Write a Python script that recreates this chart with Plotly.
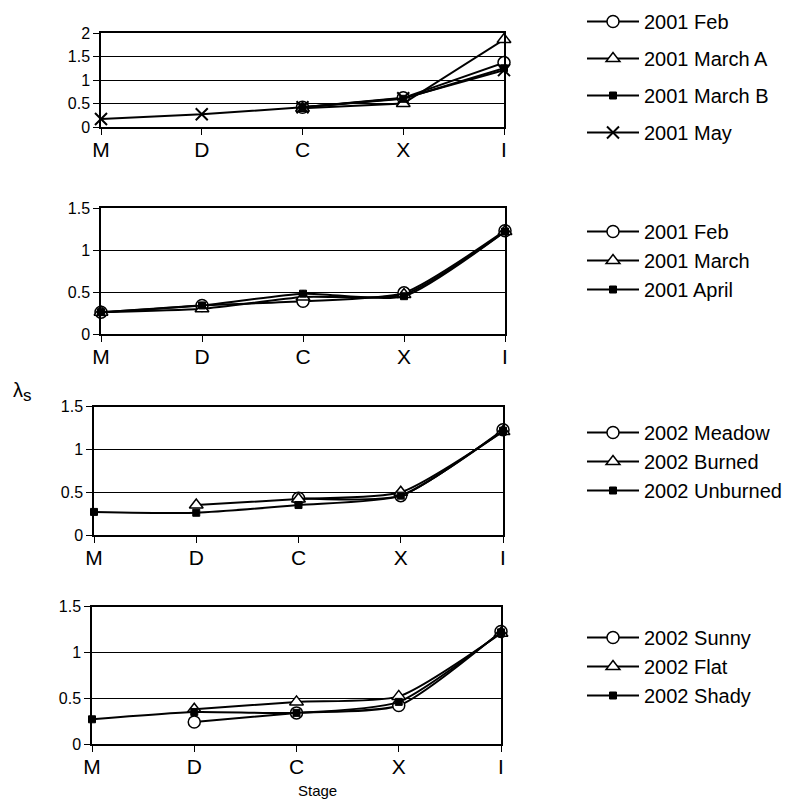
import plotly.graph_objects as go

stages = ["M", "D", "C", "X", "I"]

# Panel 1
p1_names = ["2001 Feb", "2001 March A", "2001 March B", "2001 May"]
p1_feb = [None, None, 0.42, 0.62, 1.37]
p1_marA = [None, None, 0.40, 0.50, 1.86]
p1_marB = [None, None, 0.42, 0.60, 1.25]
p1_may = [0.17, 0.27, 0.42, 0.61, 1.21]

# Panel 2
p2_names = ["2001 Feb", "2001 March", "2001 April"]
p2_feb = [0.26, 0.34, 0.39, 0.49, 1.23]
p2_mar = [0.26, 0.30, 0.44, 0.47, 1.22]
p2_apr = [0.26, 0.34, 0.48, 0.45, 1.22]

# Panel 3
p3_names = ["2002 Meadow", "2002 Burned", "2002 Unburned"]
p3_meadow = [None, None, 0.43, 0.46, 1.23]
p3_burned = [None, 0.35, 0.42, 0.50, 1.21]
p3_unburned = [0.27, 0.26, 0.35, 0.46, 1.22]

# Panel 4
p4_names = ["2002 Sunny", "2002 Flat", "2002 Shady"]
p4_sunny = [None, 0.24, 0.34, 0.42, 1.23]
p4_flat = [None, 0.38, 0.46, 0.52, 1.21]
p4_shady = [0.27, 0.35, 0.34, 0.46, 1.22]

W, H = 798, 812
FONT = "Liberation Sans, Arial, sans-serif"

def ydom(top_px, bot_px):
    return [1 - bot_px / H, 1 - top_px / H]

def xdom(l_px, r_px):
    return [l_px / W, r_px / W]

panels = [
    dict(series=[p1_feb, p1_marA, p1_marB, p1_may], names=p1_names,
         sym=["circle", "triangle-up", "square", "x-thin"], shape="linear",
         xd=xdom(101, 504), yd=ydom(33, 127), yr=[0, 2],
         leg=dict(y=2, gap=8)),
    dict(series=[p2_feb, p2_mar, p2_apr], names=p2_names,
         sym=["circle", "triangle-up", "square"], shape="spline",
         xd=xdom(101, 505), yd=ydom(208, 334), yr=[0, 1.5],
         leg=dict(y=212, gap=0)),
    dict(series=[p3_meadow, p3_burned, p3_unburned], names=p3_names,
         sym=["circle", "triangle-up", "square"], shape="spline",
         xd=xdom(94, 503), yd=ydom(406.7, 535), yr=[0, 1.5],
         leg=dict(y=413, gap=0)),
    dict(series=[p4_sunny, p4_flat, p4_shady], names=p4_names,
         sym=["circle", "triangle-up", "square"], shape="spline",
         xd=xdom(92, 501), yd=ydom(606.7, 744), yr=[0, 1.5],
         leg=dict(y=618, gap=0)),
]

fig = go.Figure()
layout = dict(
    width=W, height=H,
    margin=dict(l=0, r=0, t=0, b=0, autoexpand=False),
    paper_bgcolor="white", plot_bgcolor="white",
    font=dict(family=FONT, color="black"),
    showlegend=True,
)

for i, p in enumerate(panels):
    k = i + 1
    xa = "x" if k == 1 else f"x{k}"
    ya = "y" if k == 1 else f"y{k}"
    lg = "legend" if k == 1 else f"legend{k}"
    for j, (vals, name, sym) in enumerate(zip(p["series"], p["names"], p["sym"])):
        if sym == "x-thin":
            marker = dict(symbol="x-thin", size=12, color="black",
                          line=dict(color="black", width=2))
        elif sym == "square":
            marker = dict(symbol="square", size=7, color="black",
                          line=dict(color="black", width=1))
        else:
            marker = dict(symbol=sym, size=12, color="white",
                          line=dict(color="black", width=1.5))
        fig.add_trace(go.Scatter(
            x=stages, y=vals, name=name, mode="lines+markers",
            line=dict(color="black", width=2, shape=p["shape"], smoothing=0.6),
            marker=marker, connectgaps=False, cliponaxis=False,
            xaxis=xa, yaxis=ya, legend=lg, legendgroup=f"{k}-{j}",
        ))
    axis_common = dict(showline=True, linecolor="black", linewidth=1.5, mirror=True,
                       ticks="outside", tickcolor="black", zeroline=False,
                       automargin=False)
    layout[f"xaxis{'' if k == 1 else k}"] = dict(
        domain=p["xd"], anchor=ya, type="category", range=[0, 4],
        categoryorder="array", categoryarray=stages,
        showgrid=False, ticklen=6, tickwidth=1, ticklabelstandoff=-3,
        tickfont=dict(size=21, family=FONT), **axis_common)
    layout[f"yaxis{'' if k == 1 else k}"] = dict(
        domain=p["yd"], anchor=xa, range=p["yr"], dtick=0.5,
        showgrid=True, gridcolor="black", gridwidth=1, ticklen=6,
        tickfont=dict(size=16, family=FONT), **axis_common)
    layout[lg] = dict(
        x=582 / W, y=1 - p["leg"]["y"] / H, xanchor="left", yanchor="top",
        bgcolor="rgba(0,0,0,0)", borderwidth=0,
        font=dict(size=20, family=FONT), tracegroupgap=p["leg"]["gap"],
        itemwidth=52,
    )

layout["annotations"] = [
    dict(text="λ<sub><span style='font-size:17px'>s</span></sub>", x=22 / W, y=1 - 392 / H,
         xref="paper", yref="paper", xanchor="center", yanchor="middle",
         showarrow=False, font=dict(size=20, family=FONT)),
    dict(text="Stage", x=317 / W, y=1 - 790 / H, xref="paper", yref="paper",
         xanchor="center", yanchor="middle",
         showarrow=False, font=dict(size=15, family=FONT)),
]

fig.update_layout(**layout)
fig.write_html("out.html")
